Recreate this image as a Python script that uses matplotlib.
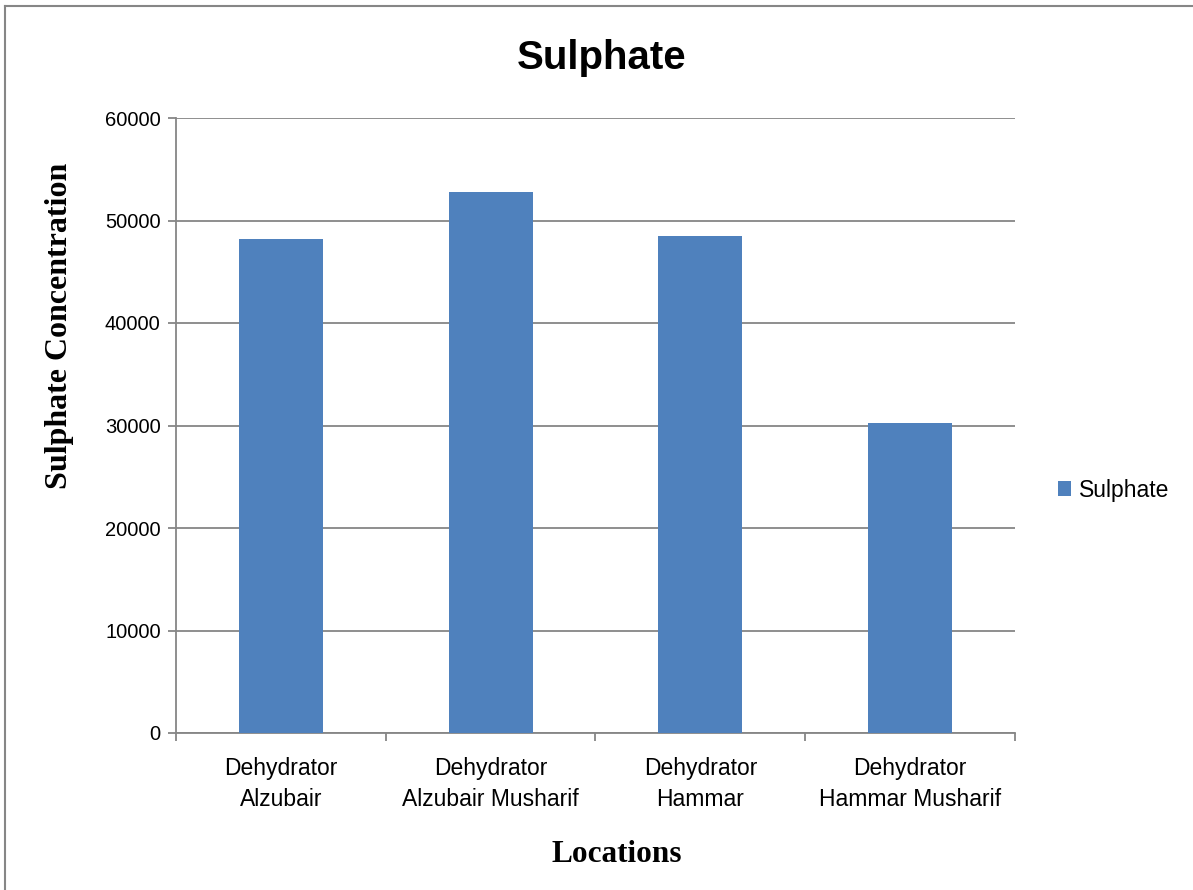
import matplotlib
matplotlib.use('Agg')
import matplotlib.pyplot as plt
from matplotlib.lines import Line2D

# data
locations = ['Dehydrator\nAlzubair', 'Dehydrator\nAlzubair Musharif',
             'Dehydrator\nHammar', 'Dehydrator\nHammar Musharif']
sulphate = [48200, 52750, 48500, 30250]
y_ticks = [0, 10000, 20000, 30000, 40000, 50000, 60000]

BAR = '#4f81bd'
GRID = '#868686'
SANS = 'Liberation Sans'
SERIF = 'Liberation Serif'

fig = plt.figure(figsize=(11.93, 8.9), dpi=100)
ax = fig.add_axes([176 / 1193, 1 - 733 / 890, (1015 - 176) / 1193, (733 - 118) / 890])

x = list(range(len(locations)))
ax.bar(x, sulphate, width=0.4, color=BAR, label='Sulphate', zorder=3)

ax.set_xlim(-0.5, len(locations) - 0.5)
ax.set_ylim(0, 60000)
ax.set_yticks(y_ticks)
ax.set_yticklabels([str(v) for v in y_ticks], fontsize=14.5, family=SANS)
ax.yaxis.grid(True, color=GRID, linewidth=1.3, zorder=0)

ax.set_xticks(x)
ax.set_xticklabels(locations, fontsize=16.5, family=SANS, linespacing=1.45)
ax.tick_params(axis='x', length=0, pad=17)
# category boundary ticks
ax.set_xticks([i - 0.5 for i in range(len(locations) + 1)], minor=True)
ax.tick_params(axis='x', which='minor', length=6, color=GRID, width=1.3)
ax.tick_params(axis='y', length=6, color=GRID, width=1.3, pad=5)

for s in ['top', 'right']:
    ax.spines[s].set_visible(False)
for s in ['left', 'bottom']:
    ax.spines[s].set_color(GRID)
    ax.spines[s].set_linewidth(1.3)

fig.text(602 / 1193, 1 - 58 / 890, 'Sulphate', fontsize=29, fontweight='bold',
         family=SANS, ha='center', va='center')
fig.text(60 / 1193, 1 - 326 / 890, 'Sulphate Concentration', fontsize=23,
         fontweight='bold', family=SERIF, rotation=90, ha='center', va='center')
fig.text(617 / 1193, 1 - 855 / 890, 'Locations', fontsize=22.5, fontweight='bold',
         family=SERIF, ha='center', va='center')

leg = fig.legend(loc='center left', bbox_to_anchor=(1037 / 1193, 1 - 490 / 890),
                 frameon=False, prop={'family': SANS, 'size': 16.5},
                 handlelength=0.6, handleheight=0.6, handletextpad=0.35)

# outer chart border (only left and top visible in the reference)
fig.add_artist(Line2D([5 / 1193, 5 / 1193], [0, 1 - 6 / 890], color=GRID, lw=1.5,
                      transform=fig.transFigure))
fig.add_artist(Line2D([5 / 1193, 1], [1 - 6 / 890, 1 - 6 / 890], color=GRID, lw=1.5,
                      transform=fig.transFigure))

fig.savefig('out.png', dpi=100)
